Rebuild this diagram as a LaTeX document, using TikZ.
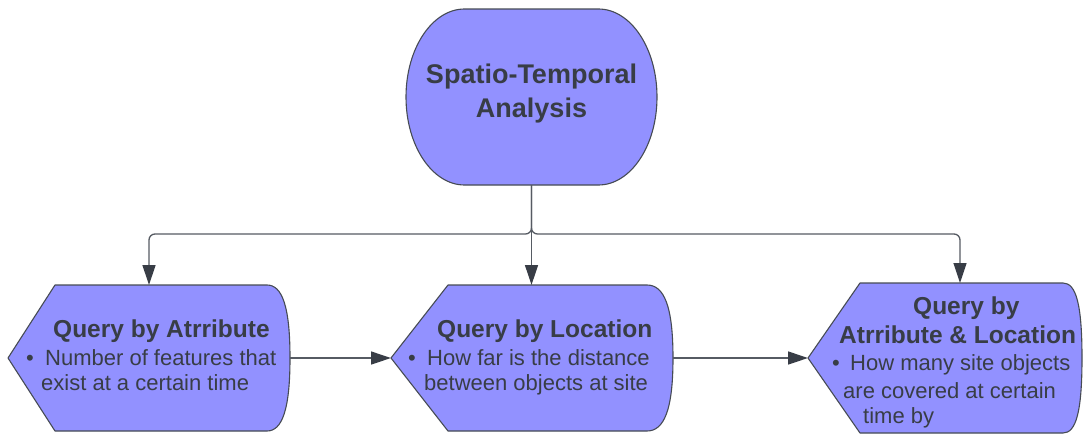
\documentclass[tikz,border=0pt]{standalone}
\usepackage{fontspec}
\setmainfont{Liberation Sans}
\usetikzlibrary{arrows.meta}
\definecolor{boxfill}{RGB}{146,145,255}
\definecolor{ink}{RGB}{56,61,70}
\definecolor{edge}{RGB}{70,75,84}
\definecolor{wire}{RGB}{86,91,99}
\begin{document}
\begin{tikzpicture}[x=1pt,y=-1pt,
  area/.style={rectangle, draw=none, inner sep=0pt, outer sep=0pt},
  shp/.style={draw=edge, fill=boxfill, line width=1.1pt, line join=round},
  wire/.style={draw=wire, line width=1.3pt,
    -{Triangle[length=20pt,width=13pt,color=ink]}},
  bigttl/.style={font=\bfseries\fontsize{27}{34}\selectfont, text=ink, inner sep=0pt, anchor=base},
  ttl/.style={font=\bfseries\fontsize{24.5}{29}\selectfont, text=ink, inner sep=0pt, anchor=base west},
  body/.style={font=\fontsize{22}{26}\selectfont, text=ink, inner sep=0pt, anchor=base west}]
\useasboundingbox (0,0) rectangle (1084,434);

% invisible frames that carry the anchors of each shape
\node[area, minimum width=251pt, minimum height=176pt] (sta) at (531.5,97) {};
\node[area, minimum width=282pt, minimum height=146pt] (qa) at (149,358) {};
\node[area, minimum width=282pt, minimum height=146pt] (ql) at (532,358) {};
\node[area, minimum width=274pt, minimum height=150pt] (qr) at (945,358) {};
\coordinate (jn) at (531.5,234);
\coordinate (qr-in) at (960,283);

% top rounded terminator
\begin{scope}[shift={(sta.center)}]
\draw[shp] (-67,-88) -- (67,-88)
  .. controls (99,-88) and (125.5,-49) .. (125.5,0)
  .. controls (125.5,49) and (99,88) .. (67,88)
  -- (-67,88)
  .. controls (-99,88) and (-125.5,49) .. (-125.5,0)
  .. controls (-125.5,-49) and (-99,-88) .. (-67,-88) -- cycle;
\end{scope}

% display shapes: pointed left side, bowed right side
\begin{scope}[shift={(qa.center)}]
\draw[shp] (-141,0) -- (-94,-73) -- (118,-73)
  .. controls (133,-73) and (141,-52) .. (141,0)
  .. controls (141,52) and (133,73) .. (118,73)
  -- (-94,73) -- cycle;
\end{scope}
\begin{scope}[shift={(ql.center)}]
\draw[shp] (-141,0) -- (-84,-73) -- (115,-73)
  .. controls (132,-73) and (141,-52) .. (141,0)
  .. controls (141,52) and (132,73) .. (115,73)
  -- (-84,73) -- cycle;
\end{scope}
\begin{scope}[shift={(qr.center)}]
\draw[shp] (-137,0) -- (-85,-75) -- (118,-75)
  .. controls (131,-75) and (137,-54) .. (137,0)
  .. controls (137,54) and (131,75) .. (118,75)
  -- (-85,75) -- cycle;
\end{scope}

% connectors
\draw[wire, rounded corners=6pt] (sta.south) -- (jn) -| (qa.north);
\draw[wire, rounded corners=6pt] (sta.south) -- (jn) -| (qr-in);
\draw[wire] (sta.south) -- (sta.south |- ql.north);
\draw[wire] (qa.east) -- (ql.west);
\draw[wire] (ql.east) -- (qr.west);

% texts
\node[bigttl] (sta-l1) at (531.5,83) {Spatio-Temporal};
\node[bigttl] (sta-l2) at (531.5,117) {Analysis};

\node[ttl] (qa-t) at (53,337) {Query by Atrribute};
\node[body] (qa-b) at (26,365) {•};
\node[body] (qa-l1) at (45,365) {Number of features that};
\node[body] (qa-l2) at (41,390) {exist at a certain time};

\node[ttl] (ql-t) at (437,337) {Query by Location};
\node[body] (ql-b) at (408,365) {•};
\node[body] (ql-l1) at (427,365) {How far is the distance};
\node[body] (ql-l2) at (424,390) {between objects at site};

\node[ttl] (qr-t1) at (913,314) {Query by};
\node[ttl] (qr-t2) at (839,343) {Atrribute \& Location};
\node[body] (qr-b) at (832,370) {•};
\node[body] (qr-l1) at (850,370) {How many site objects};
\node[body] (qr-l2) at (843,398) {are covered at certain};
\node[body] (qr-l3) at (863,423) {time by};
\end{tikzpicture}
\end{document}
